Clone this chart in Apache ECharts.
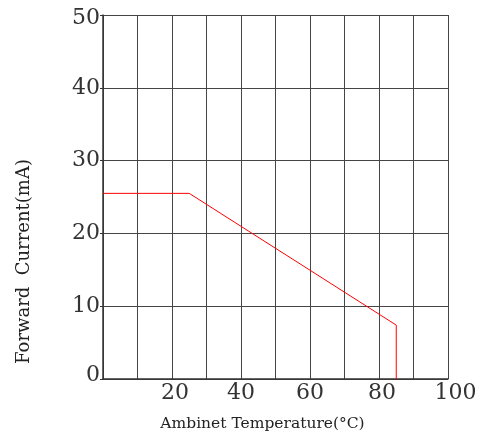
<!DOCTYPE html>
<html><head><meta charset="utf-8">
<script src="https://cdn.jsdelivr.net/npm/echarts@6/dist/echarts.min.js"></script>
<style>html,body{margin:0;padding:0;background:#fff}#c{width:484px;height:439px}</style>
</head><body><div id="c"></div>
<script>
const temps = [0, 25, 85, 85];
const currents = [25.5, 25.5, 7.4, 0];
const xTickLabels = [20, 40, 60, 80, 100];
const xName = 'Ambinet Temperature(°C)';
const yName = 'Forward  Current(mA)';

const chart = echarts.init(document.getElementById('c'));
const font = 'DejaVu Serif';
const lbl = {fontFamily: font, fontSize: 22, color: '#333'};
chart.setOption({
  animation: false,
  grid: {left: 103, right: 36, top: 15, bottom: 60},
  xAxis: {
    type: 'value', min: 0, max: 100, interval: 10,
    name: xName, nameLocation: 'middle', nameGap: 37,
    nameTextStyle: {fontFamily: font, fontSize: 15.5, color: '#222', padding: [0, 26, 0, 0]},
    axisLine: {lineStyle: {color: '#333', width: 1.5}},
    axisTick: {show: false},
    axisLabel: Object.assign({}, lbl, {margin: 3,
      formatter: v => {
        if (!xTickLabels.includes(v)) return '';
        if (v === 100) return '{f|' + v + '}';
        if (v === 20 || v === 80) return '{s|' + v + '}';
        return '{n|' + v + '}';
      },
      rich: {
        n: lbl,
        s: Object.assign({}, lbl, {padding: [0, 0, 0, 6]}),
        f: Object.assign({}, lbl, {padding: [0, 0, 0, 15]})
      }}),
    splitLine: {show: true, lineStyle: {color: '#444', width: 1}}
  },
  yAxis: {
    type: 'value', min: 0, max: 50, interval: 10,
    name: yName, nameLocation: 'middle', nameGap: 70,
    nameTextStyle: {fontFamily: font, fontSize: 18, color: '#222', padding: [0, 129, 0, 0]},
    axisLine: {show: true, lineStyle: {color: '#333', width: 1.5}},
    axisTick: {show: true, length: 3, lineStyle: {color: '#333'}},
    axisLabel: Object.assign({}, lbl, {margin: 3,
      formatter: v => v === 50 ? '{t|' + v + '}' : (v === 0 ? '{b|' + v + '}' : '{n|' + v + '}'),
      rich: {
        n: lbl,
        t: Object.assign({}, lbl, {padding: [7, 0, 0, 0]}),
        b: Object.assign({}, lbl, {padding: [0, 0, 7, 0]})
      }}),
    splitLine: {show: true, lineStyle: {color: '#444', width: 1}}
  },
  series: [{
    type: 'line',
    data: temps.map((t, i) => [t, currents[i]]),
    showSymbol: false, symbol: 'none',
    lineStyle: {color: '#ff0000', width: 1},
    itemStyle: {color: '#ff0000'}
  }]
});
</script></body></html>
